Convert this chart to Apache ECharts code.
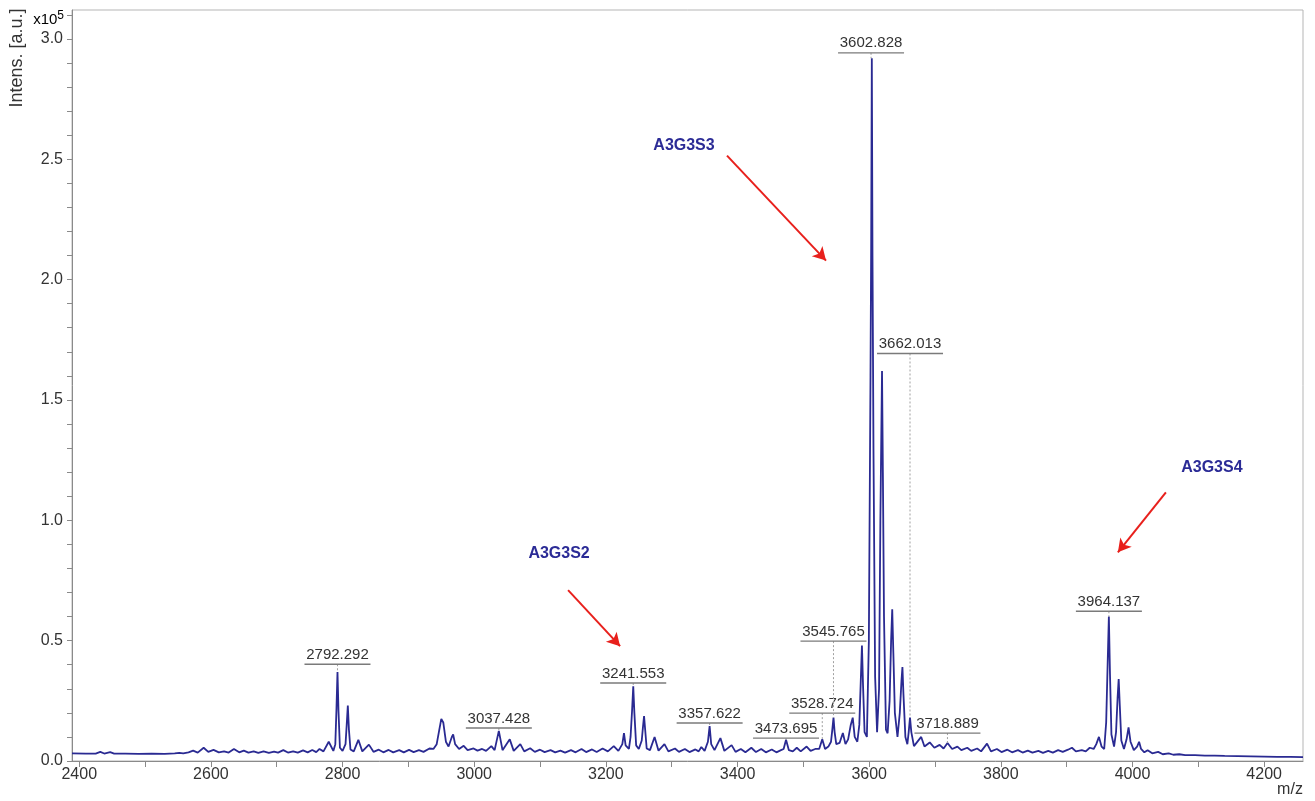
<!DOCTYPE html>
<html>
<head>
<meta charset="utf-8">
<script src="https://cdn.jsdelivr.net/npm/echarts@6/dist/echarts.min.js"></script>
<style>html,body{margin:0;padding:0;background:#fff}#c{width:1315px;height:801px}</style>
</head>
<body>
<div id="c"></div>
<script>
// ---- data (m/z, intensity in units of 1e5 a.u.) ----
const X_TICKS = [2400,2500,2600,2700,2800,2900,3000,3100,3200,3300,3400,3500,3600,3700,3800,3900,4000,4100,4200];
const X_LABELS = [2400,2600,2800,3000,3200,3400,3600,3800,4000,4200];
const Y_TICKS = [0,0.1,0.2,0.3,0.4,0.5,0.6,0.7,0.8,0.9,1.0,1.1,1.2,1.3,1.4,1.5,1.6,1.7,1.8,1.9,2.0,2.1,2.2,2.3,2.4,2.5,2.6,2.7,2.8,2.9,3.0,3.1];
const Y_LABELS = [0,0.5,1.0,1.5,2.0,2.5,3.0];

const SPECTRUM = [
[2389,0.032],[2410,0.031],[2425,0.031],[2432,0.038],[2438,0.031],[2447,0.037],[2453,0.031],[2470,0.031],[2490,0.030],[2510,0.031],[2530,0.030],[2545,0.032],[2552,0.034],[2558,0.032],
[2566,0.036],[2573,0.043],[2580,0.035],[2589,0.055],[2596,0.038],[2604,0.046],[2612,0.036],[2620,0.040],[2627,0.035],[2635,0.050],[2643,0.036],[2650,0.043],[2657,0.035],[2665,0.040],[2672,0.034],[2680,0.040],[2688,0.034],[2696,0.039],[2702,0.035],[2710,0.045],[2717,0.035],[2725,0.040],[2732,0.035],[2740,0.044],[2747,0.036],[2754,0.046],[2760,0.037],[2765,0.050],[2771,0.040],[2779,0.080],[2786,0.042],
[2789,0.070],[2790.8,0.22],[2792.3,0.37],[2793.8,0.21],[2796,0.055],[2800,0.042],
[2804.5,0.070],[2806.3,0.15],[2808,0.23],[2809.7,0.13],[2812,0.048],[2817,0.040],
[2824,0.088],[2830,0.040],[2840,0.068],[2847,0.038],[2855,0.047],[2862,0.036],[2870,0.046],[2877,0.036],[2886,0.045],[2893,0.036],[2901,0.046],[2908,0.037],[2916,0.045],[2923,0.038],[2932,0.052],[2938,0.050],
[2943,0.070],[2947,0.13],[2950,0.175],[2953,0.16],[2957,0.080],[2961,0.060],[2966,0.10],[2968,0.11],[2971,0.070],[2977,0.050],[2984,0.063],[2990,0.045],[2999,0.052],[3005,0.043],[3012,0.050],[3018,0.042],[3026,0.062],[3031,0.045],[3037.4,0.125],[3043,0.045],[3054,0.090],[3060,0.042],[3070,0.070],[3076,0.040],[3085,0.053],[3092,0.038],[3100,0.047],[3107,0.037],[3116,0.045],[3123,0.036],[3131,0.043],[3138,0.035],[3147,0.045],[3154,0.036],[3163,0.050],[3170,0.037],[3179,0.048],[3186,0.037],[3195,0.052],[3203,0.040],[3212,0.062],[3219,0.042],
[3225,0.070],[3227.5,0.116],[3230,0.065],[3235,0.050],
[3237.5,0.10],[3239.8,0.21],[3241.6,0.31],[3243.3,0.20],[3246,0.065],[3250,0.050],
[3254.5,0.085],[3256.3,0.14],[3258,0.187],[3259.7,0.13],[3262,0.052],[3267,0.045],
[3274,0.10],[3280,0.043],[3289,0.070],[3295,0.040],[3305,0.052],[3311,0.038],[3320,0.050],[3327,0.037],[3336,0.048],[3341,0.040],[3345,0.058],[3350,0.042],
[3355,0.080],[3357.6,0.145],[3360,0.070],[3365,0.045],[3374,0.095],[3380,0.042],[3391,0.066],[3397,0.038],[3405,0.050],[3412,0.036],[3421,0.055],[3428,0.037],[3436,0.050],[3443,0.036],[3452,0.048],[3459,0.036],[3466,0.045],[3470,0.050],[3473.7,0.088],[3478,0.045],[3484,0.040],[3490,0.055],[3496,0.040],[3505,0.060],[3511,0.042],[3518,0.050],[3524,0.050],[3528.7,0.090],[3533,0.050],[3538,0.060],
[3542,0.080],[3544,0.13],[3545.8,0.18],[3547.5,0.12],[3550,0.070],[3555,0.075],[3560,0.116],[3564,0.070],[3568,0.090],[3572,0.15],[3575,0.18],[3578,0.10],[3582,0.080],
[3585,0.15],[3587.3,0.34],[3589,0.48],[3590.7,0.31],[3593,0.12],[3596.5,0.10],
[3599.5,0.50],[3602,1.60],[3603,2.13],[3604,2.92],[3605,2.10],[3606.5,1.30],[3609,0.35],[3612,0.12],
[3615,0.30],[3617,1.00],[3618.2,1.30],[3619.5,1.62],[3620.8,1.20],[3622.5,0.60],[3625.5,0.13],[3628,0.115],
[3631,0.25],[3633.3,0.50],[3635,0.63],[3636.7,0.45],[3639,0.20],[3643,0.10],
[3646.5,0.20],[3649,0.33],[3650.5,0.39],[3652,0.28],[3655,0.10],[3658,0.070],
[3660,0.12],[3662,0.18],[3664,0.12],[3668,0.062],[3679,0.10],[3684,0.060],[3692,0.077],[3699,0.055],[3707,0.067],[3713,0.052],[3719,0.075],[3726,0.050],[3734,0.060],[3740,0.045],[3749,0.055],[3755,0.042],[3764,0.052],[3770,0.040],[3779,0.072],[3785,0.040],[3794,0.050],[3801,0.037],[3810,0.047],[3817,0.036],[3826,0.045],[3833,0.035],[3841,0.043],[3848,0.035],[3857,0.042],[3864,0.034],[3872,0.042],[3879,0.035],[3887,0.045],[3894,0.038],[3902,0.047],[3908,0.055],[3914,0.040],[3923,0.045],[3929,0.040],[3935,0.055],[3941,0.050],
[3945,0.070],[3949,0.10],[3953,0.060],[3957,0.050],
[3960,0.16],[3962.3,0.41],[3964.1,0.60],[3965.8,0.36],[3968,0.11],[3972,0.060],
[3975,0.12],[3977.3,0.26],[3979,0.34],[3980.7,0.23],[3983,0.085],[3987,0.050],
[3991,0.090],[3994,0.14],[3997,0.080],[4002,0.045],[4007,0.060],[4010,0.080],[4013,0.050],[4018,0.036],[4023,0.045],[4030,0.032],[4039,0.038],[4046,0.028],[4055,0.032],[4062,0.026],[4071,0.028],[4080,0.024],[4095,0.024],[4110,0.022],[4125,0.022],[4140,0.021],[4160,0.020],[4180,0.019],[4200,0.018],[4220,0.017],[4240,0.017],[4259,0.016]
];

// peak annotations: [m/z, peak apex, label baseline]
const PEAK_LABEL_POS = [
[2792.292,0.37,0.402],[3037.428,0.125,0.137],[3241.553,0.31,0.324],[3357.622,0.145,0.158],
[3473.695,0.088,0.095],[3528.724,0.09,0.199],[3545.765,0.18,0.498],[3602.828,2.92,2.942],
[3662.013,0.18,1.693],[3718.889,0.075,0.116],[3964.137,0.60,0.622]
];
const PEAK_LABEL_TEXT = ['2792.292','3037.428','3241.553','3357.622','3473.695','3528.724','3545.765','3602.828','3662.013','3718.889','3964.137'];

const GLYCAN_NAMES = ['A3G3S2','A3G3S3','A3G3S4'];
const GLYCAN_POS = [[3128.9,0.863],[3318.7,2.556],[4120.6,1.22]];
const ARROWS = [[3142.6,0.71,3221.6,0.477],[3384,2.515,3534.4,2.079],[4050.7,1.116,3977.8,0.867]];

// ---- chart ----
const FONT = '"Liberation Sans", Arial, sans-serif';
const chart = echarts.init(document.getElementById('c'), null, {renderer:'canvas'});
chart.setOption({
  animation:false,
  backgroundColor:'#fff',
  grid:{left:72,right:12,top:10,bottom:40,show:true,borderColor:'#b5b5b5',borderWidth:1},
  xAxis:{type:'value',min:2389,max:4259,
    axisLine:{show:true,lineStyle:{color:'#8a8a8a'}},
    axisTick:{show:true,length:6,lineStyle:{color:'#8a8a8a'},customValues:X_TICKS},
    axisLabel:{color:'#333',fontSize:16,fontFamily:FONT,margin:6,customValues:X_LABELS,formatter:v=>String(v)},
    splitLine:{show:false}},
  yAxis:{type:'value',min:0,max:3.12,
    axisLine:{show:true,lineStyle:{color:'#8a8a8a'}},
    axisTick:{show:true,length:5,lineStyle:{color:'#8a8a8a'},customValues:Y_TICKS},
    axisLabel:{color:'#333',fontSize:16,fontFamily:FONT,margin:9,customValues:Y_LABELS,formatter:v=>v.toFixed(1)},
    splitLine:{show:false}},
  graphic:[
    {type:'text',x:17,y:58,rotation:Math.PI/2,style:{text:'Intens. [a.u.]',fill:'#333',font:'18px '+FONT,align:'center',verticalAlign:'middle'}},
    {type:'text',x:64,y:20,style:{text:'{a|x10}{b|5}',align:'right',verticalAlign:'middle',rich:{a:{fontSize:15,fontFamily:FONT,color:'#333'},b:{fontSize:12,fontFamily:FONT,color:'#333',verticalAlign:'top',padding:[0,0,8,0]}}}},
    {type:'text',x:1290,y:790,style:{text:'m/z',fill:'#333',font:'16px '+FONT,align:'center',verticalAlign:'middle'}}
  ],
  series:[
    {type:'line',data:SPECTRUM,symbol:'none',sampling:null,
     lineStyle:{color:'#2a2a92',width:1.8},z:3,
     markLine:{silent:true,symbol:['none','arrow'],symbolSize:[11,13],
       lineStyle:{color:'#e8201c',width:2,type:'solid'},label:{show:false},
       data:ARROWS.map(a=>[{coord:[a[0],a[1]]},{coord:[a[2],a[3]]}])}},
    {type:'custom',z:4,data:PEAK_LABEL_POS,
     renderItem:function(params,api){
       const x=api.value(0),apex=api.value(1),ul=api.value(2);
       const p0=api.coord([x,ul]),p1=api.coord([x,apex]);
       return {type:'group',children:[
         {type:'line',shape:{x1:p0[0],y1:p0[1],x2:p1[0],y2:p1[1]},style:{stroke:'#a0a0a0',lineWidth:1,lineDash:[2,2]}},
         {type:'line',shape:{x1:p0[0]-33,y1:p0[1],x2:p0[0]+33,y2:p0[1]},style:{stroke:'#7a7a7a',lineWidth:1.4}},
         {type:'text',x:p0[0],y:p0[1]-2,style:{text:PEAK_LABEL_TEXT[params.dataIndex],fill:'#333',font:'15px '+FONT,align:'center',verticalAlign:'bottom'}}
       ]};
     }},
    {type:'scatter',z:5,symbolSize:0,itemStyle:{opacity:1,color:'#2b2b96'},
     data:GLYCAN_POS.map((p,i)=>({value:p,name:GLYCAN_NAMES[i]})),
     label:{show:true,position:'inside',formatter:'{b}',color:'#2b2b96',opacity:1,fontWeight:'bold',fontSize:16,fontFamily:FONT}}
  ]
});
</script>
</body>
</html>
